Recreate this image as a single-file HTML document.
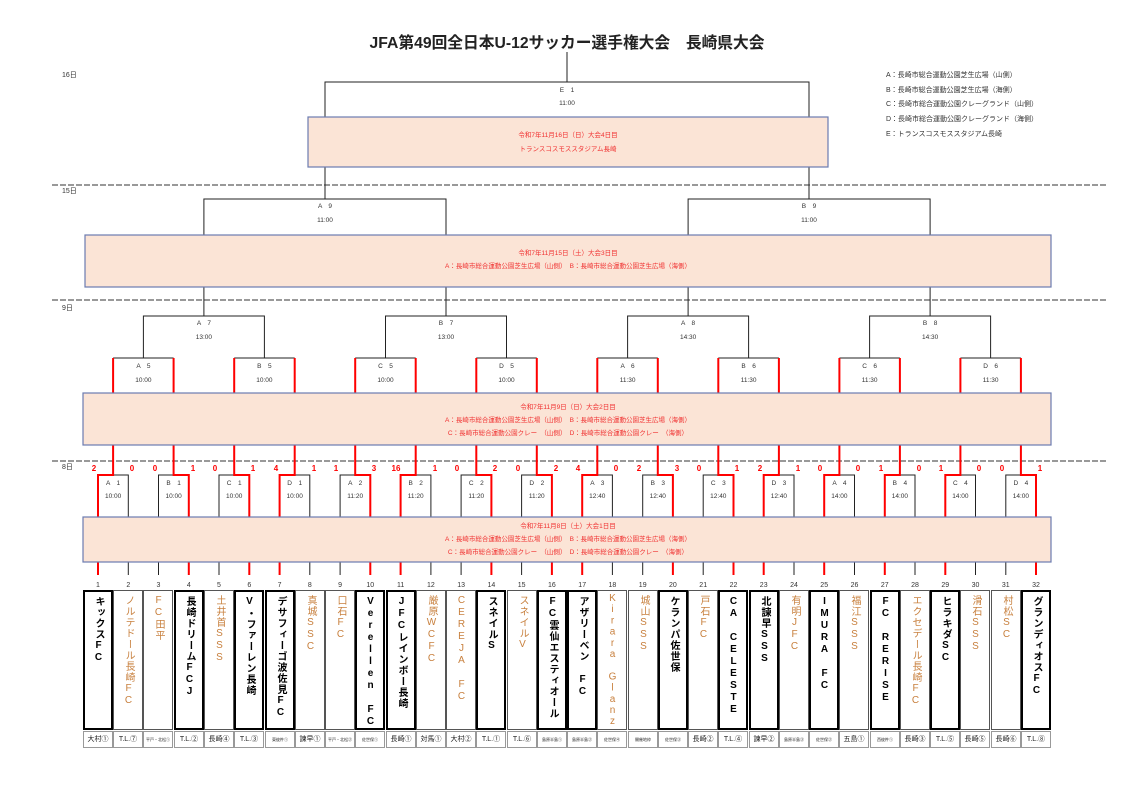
<!DOCTYPE html>
<html><head><meta charset="utf-8"><style>
html,body{margin:0;padding:0;background:#fff}
#w{position:relative;width:1139px;height:792px;overflow:hidden;font-family:"Liberation Sans","Noto Sans CJK JP",sans-serif}
svg{position:absolute;left:0;top:0}
.t{position:absolute;top:590px;width:30px;height:140px;box-sizing:border-box;border:1px solid #555;writing-mode:vertical-rl;text-orientation:upright;font-size:10px;line-height:28px;padding-top:4px;color:#c8803e;letter-spacing:1px;overflow:hidden;white-space:pre}
.b{border:2px solid #000;color:#000;font-weight:bold;line-height:26px}
.f{position:absolute;top:731px;width:30px;height:17px;box-sizing:border-box;border:1px solid #999;font-size:7px;line-height:15px;text-align:center;color:#222;white-space:nowrap;overflow:hidden}
.s{font-size:4px}
</style></head><body><div id="w">
<svg width="1139" height="792" viewBox="0 0 1139 792" font-family="Liberation Sans,Noto Sans CJK JP,sans-serif">
<g stroke="#333" stroke-width="1" stroke-dasharray="6,2">
<line x1="52" y1="185" x2="1108" y2="185"/><line x1="52" y1="300" x2="1108" y2="300"/><line x1="52" y1="461" x2="1108" y2="461"/>
</g>
<g font-size="7" fill="#333">
<text x="62" y="77">16日</text><text x="62" y="193">15日</text><text x="62" y="310">9日</text><text x="62" y="469">8日</text>
</g>
<text x="567" y="48" font-size="16" font-weight="bold" text-anchor="middle" textLength="395" lengthAdjust="spacingAndGlyphs" fill="#222">JFA第49回全日本U-12サッカー選手権大会　長崎県大会</text>
<g font-size="7" fill="#333">
<text x="886" y="77">A：長崎市総合運動公園芝生広場（山側）</text>
<text x="886" y="92">B：長崎市総合運動公園芝生広場（海側）</text>
<text x="886" y="106">C：長崎市総合運動公園クレーグランド（山側）</text>
<text x="886" y="121">D：長崎市総合運動公園クレーグランド（海側）</text>
<text x="886" y="136">E：トランスコスモススタジアム長崎</text>
</g>
<g fill="none" stroke="#222" stroke-width="1">
<path d="M567 52V82M325 199V82H809V199"/>
<path d="M203.9 316V199H446V316M688.1 316V199H930.1V316"/>
<path d="M143.4 358V316H264.4V358M385.5 358V316H506.5V358M627.6 358V316H748.6V358M869.6 358V316H990.6V358"/>
<path d="M113.1 358H173.6M234.2 358H294.7M355.2 358H415.7M476.3 358H536.8M597.3 358H657.8M718.3 358H778.9M839.4 358H899.9M960.4 358H1020.9"/>
<path d="M98 575V475H128.3V575M158.5 575V475H188.8V575M219 575V475H249.3V575M279.6 575V475H309.8V575M340.1 575V475H370.3V575M400.6 575V475H430.9V575M461.1 575V475H491.4V575M521.6 575V475H551.9V575M582.2 575V475H612.4V575M642.7 575V475H672.9V575M703.2 575V475H733.5V575M763.7 575V475H794V575M824.2 575V475H854.5V575M884.8 575V475H915V575M945.3 575V475H975.5V575M1005.8 575V475H1036V575"/>
</g>
<g fill="none" stroke="#f00" stroke-width="2">
<path d="M98 575V475H113.1V358M188.8 575V475H173.6V358M249.3 575V475H234.2V358M279.6 575V475H294.7V358M370.3 575V475H355.2V358M400.6 575V475H415.7V358M491.4 575V475H476.3V358M551.9 575V475H536.8V358M582.2 575V475H597.3V358M672.9 575V475H657.8V358M733.5 575V475H718.3V358M763.7 575V475H778.9V358M824.2 575V475H839.4V358M884.8 575V475H899.9V358M945.3 575V475H960.4V358M1036 575V475H1020.9V358"/>
</g>
<g stroke="#6b7bb0" stroke-width="1.2" fill="#fbe4d6">
<rect x="308" y="117" width="520" height="50"/>
<rect x="85" y="235" width="966" height="52"/>
<rect x="83" y="393" width="968" height="52"/>
<rect x="83" y="517" width="968" height="45"/>
</g>
<g font-size="6.5" fill="#f03030" text-anchor="middle">
<text x="568" y="137">令和7年11月16日（日）大会4日目</text>
<text x="568" y="151">トランスコスモススタジアム長崎</text>
<text x="568" y="255">令和7年11月15日（土）大会3日目</text>
<text x="568" y="268">A：長崎市総合運動公園芝生広場（山側）　B：長崎市総合運動公園芝生広場（海側）</text>
<text x="568" y="409">令和7年11月9日（日）大会2日目</text>
<text x="568" y="422">A：長崎市総合運動公園芝生広場（山側）　B：長崎市総合運動公園芝生広場（海側）</text>
<text x="568" y="435">C：長崎市総合運動公園クレー　（山側）　D：長崎市総合運動公園クレー　（海側）</text>
<text x="568" y="528">令和7年11月8日（土）大会1日目</text>
<text x="568" y="541">A：長崎市総合運動公園芝生広場（山側）　B：長崎市総合運動公園芝生広場（海側）</text>
<text x="568" y="554">C：長崎市総合運動公園クレー　（山側）　D：長崎市総合運動公園クレー　（海側）</text>
</g>
<g font-size="6.5" fill="#333" text-anchor="middle">
<text x="567" y="92">E　1</text><text x="567" y="105">11:00</text>
<text x="325" y="208">A　9</text><text x="325" y="222">11:00</text>
<text x="809" y="208">B　9</text><text x="809" y="222">11:00</text>
<text x="203.9" y="325">A　7</text><text x="203.9" y="339">13:00</text>
<text x="446" y="325">B　7</text><text x="446" y="339">13:00</text>
<text x="688.1" y="325">A　8</text><text x="688.1" y="339">14:30</text>
<text x="930.1" y="325">B　8</text><text x="930.1" y="339">14:30</text>
<text x="143.4" y="368">A　5</text><text x="143.4" y="382">10:00</text>
<text x="264.4" y="368">B　5</text><text x="264.4" y="382">10:00</text>
<text x="385.5" y="368">C　5</text><text x="385.5" y="382">10:00</text>
<text x="506.5" y="368">D　5</text><text x="506.5" y="382">10:00</text>
<text x="627.6" y="368">A　6</text><text x="627.6" y="382">11:30</text>
<text x="748.6" y="368">B　6</text><text x="748.6" y="382">11:30</text>
<text x="869.6" y="368">C　6</text><text x="869.6" y="382">11:30</text>
<text x="990.6" y="368">D　6</text><text x="990.6" y="382">11:30</text>
<text x="113.1" y="485">A　1</text><text x="113.1" y="498">10:00</text>
<text x="173.6" y="485">B　1</text><text x="173.6" y="498">10:00</text>
<text x="234.2" y="485">C　1</text><text x="234.2" y="498">10:00</text>
<text x="294.7" y="485">D　1</text><text x="294.7" y="498">10:00</text>
<text x="355.2" y="485">A　2</text><text x="355.2" y="498">11:20</text>
<text x="415.7" y="485">B　2</text><text x="415.7" y="498">11:20</text>
<text x="476.3" y="485">C　2</text><text x="476.3" y="498">11:20</text>
<text x="536.8" y="485">D　2</text><text x="536.8" y="498">11:20</text>
<text x="597.3" y="485">A　3</text><text x="597.3" y="498">12:40</text>
<text x="657.8" y="485">B　3</text><text x="657.8" y="498">12:40</text>
<text x="718.3" y="485">C　3</text><text x="718.3" y="498">12:40</text>
<text x="778.9" y="485">D　3</text><text x="778.9" y="498">12:40</text>
<text x="839.4" y="485">A　4</text><text x="839.4" y="498">14:00</text>
<text x="899.9" y="485">B　4</text><text x="899.9" y="498">14:00</text>
<text x="960.4" y="485">C　4</text><text x="960.4" y="498">14:00</text>
<text x="1020.9" y="485">D　4</text><text x="1020.9" y="498">14:00</text>
</g>
<g font-size="8" font-weight="bold" fill="#f00" text-anchor="middle">
<text x="94" y="471">2</text><text x="132" y="471">0</text><text x="155" y="471">0</text><text x="193" y="471">1</text>
<text x="215" y="471">0</text><text x="253" y="471">1</text><text x="276" y="471">4</text><text x="314" y="471">1</text>
<text x="336" y="471">1</text><text x="374" y="471">3</text><text x="396" y="471">16</text><text x="435" y="471">1</text>
<text x="457" y="471">0</text><text x="495" y="471">2</text><text x="518" y="471">0</text><text x="556" y="471">2</text>
<text x="578" y="471">4</text><text x="616" y="471">0</text><text x="639" y="471">2</text><text x="677" y="471">3</text>
<text x="699" y="471">0</text><text x="737" y="471">1</text><text x="760" y="471">2</text><text x="798" y="471">1</text>
<text x="820" y="471">0</text><text x="858" y="471">0</text><text x="881" y="471">1</text><text x="919" y="471">0</text>
<text x="941" y="471">1</text><text x="979" y="471">0</text><text x="1002" y="471">0</text><text x="1040" y="471">1</text>
</g>
<g font-size="7" fill="#333" text-anchor="middle">
<text x="98" y="587">1</text><text x="128.3" y="587">2</text><text x="158.5" y="587">3</text><text x="188.8" y="587">4</text><text x="219" y="587">5</text><text x="249.3" y="587">6</text><text x="279.6" y="587">7</text><text x="309.8" y="587">8</text><text x="340.1" y="587">9</text><text x="370.3" y="587">10</text><text x="400.6" y="587">11</text><text x="430.9" y="587">12</text><text x="461.1" y="587">13</text><text x="491.4" y="587">14</text><text x="521.6" y="587">15</text><text x="551.9" y="587">16</text><text x="582.2" y="587">17</text><text x="612.4" y="587">18</text><text x="642.7" y="587">19</text><text x="672.9" y="587">20</text><text x="703.2" y="587">21</text><text x="733.5" y="587">22</text><text x="763.7" y="587">23</text><text x="794" y="587">24</text><text x="824.2" y="587">25</text><text x="854.5" y="587">26</text><text x="884.8" y="587">27</text><text x="915" y="587">28</text><text x="945.3" y="587">29</text><text x="975.5" y="587">30</text><text x="1005.8" y="587">31</text><text x="1036" y="587">32</text>
</g>
</svg>
<div class="t b" style="left:83px">キックスFC</div>
<div class="t" style="left:113px">ノルテドール長崎FC</div>
<div class="t" style="left:143px">FC田平</div>
<div class="t b" style="left:174px">長崎ドリームFCJ</div>
<div class="t" style="left:204px">土井首SSS</div>
<div class="t b" style="left:234px">V・ファーレン長崎</div>
<div class="t b" style="left:265px">デサフィーゴ波佐見FC</div>
<div class="t" style="left:295px">真城SSC</div>
<div class="t" style="left:325px">口石FC</div>
<div class="t b" style="left:355px">Verellen FC</div>
<div class="t b" style="left:386px">JFCレインボー長崎</div>
<div class="t" style="left:416px">厳原WCFC</div>
<div class="t" style="left:446px">CEREJA FC</div>
<div class="t b" style="left:476px">スネイルS</div>
<div class="t" style="left:507px">スネイルV</div>
<div class="t b" style="left:537px">FC雲仙エスティオール</div>
<div class="t b" style="left:567px">アザリーベン FC</div>
<div class="t" style="left:597px;letter-spacing:0.2px;padding-top:2px">Kirara Glanz</div>
<div class="t" style="left:628px">城山SSS</div>
<div class="t b" style="left:658px">ケランパ佐世保</div>
<div class="t" style="left:688px">戸石FC</div>
<div class="t b" style="left:718px">CA CELESTE</div>
<div class="t b" style="left:749px">北諫早SSS</div>
<div class="t" style="left:779px">有明JFC</div>
<div class="t b" style="left:809px">IMURA FC</div>
<div class="t" style="left:839px">福江SSS</div>
<div class="t b" style="left:870px">FC RERISE</div>
<div class="t" style="left:900px">エクセデール長崎FC</div>
<div class="t b" style="left:930px">ヒラキダSC</div>
<div class="t" style="left:960px">滑石SSS</div>
<div class="t" style="left:991px">村松SC</div>
<div class="t b" style="left:1021px">グランディオスFC</div>
<div class="f" style="left:83px">大村①</div>
<div class="f" style="left:113px">T.L.⑦</div>
<div class="f s" style="left:143px">平戸・北松①</div>
<div class="f" style="left:174px">T.L.②</div>
<div class="f" style="left:204px">長崎④</div>
<div class="f" style="left:234px">T.L.③</div>
<div class="f s" style="left:265px">東彼杵①</div>
<div class="f" style="left:295px">諫早①</div>
<div class="f s" style="left:325px">平戸・北松②</div>
<div class="f s" style="left:355px">佐世保①</div>
<div class="f" style="left:386px">長崎①</div>
<div class="f" style="left:416px">対馬①</div>
<div class="f" style="left:446px">大村②</div>
<div class="f" style="left:476px">T.L.①</div>
<div class="f" style="left:507px">T.L.⑥</div>
<div class="f s" style="left:537px">島原半島①</div>
<div class="f s" style="left:567px">島原半島②</div>
<div class="f s" style="left:597px">佐世保④</div>
<div class="f s" style="left:628px">開催地枠</div>
<div class="f s" style="left:658px">佐世保③</div>
<div class="f" style="left:688px">長崎②</div>
<div class="f" style="left:718px">T.L.④</div>
<div class="f" style="left:749px">諫早②</div>
<div class="f s" style="left:779px">島原半島③</div>
<div class="f s" style="left:809px">佐世保②</div>
<div class="f" style="left:839px">五島①</div>
<div class="f s" style="left:870px">西彼杵①</div>
<div class="f" style="left:900px">長崎③</div>
<div class="f" style="left:930px">T.L.⑤</div>
<div class="f" style="left:960px">長崎⑤</div>
<div class="f" style="left:991px">長崎⑥</div>
<div class="f" style="left:1021px">T.L.⑧</div>
</div></body></html>
